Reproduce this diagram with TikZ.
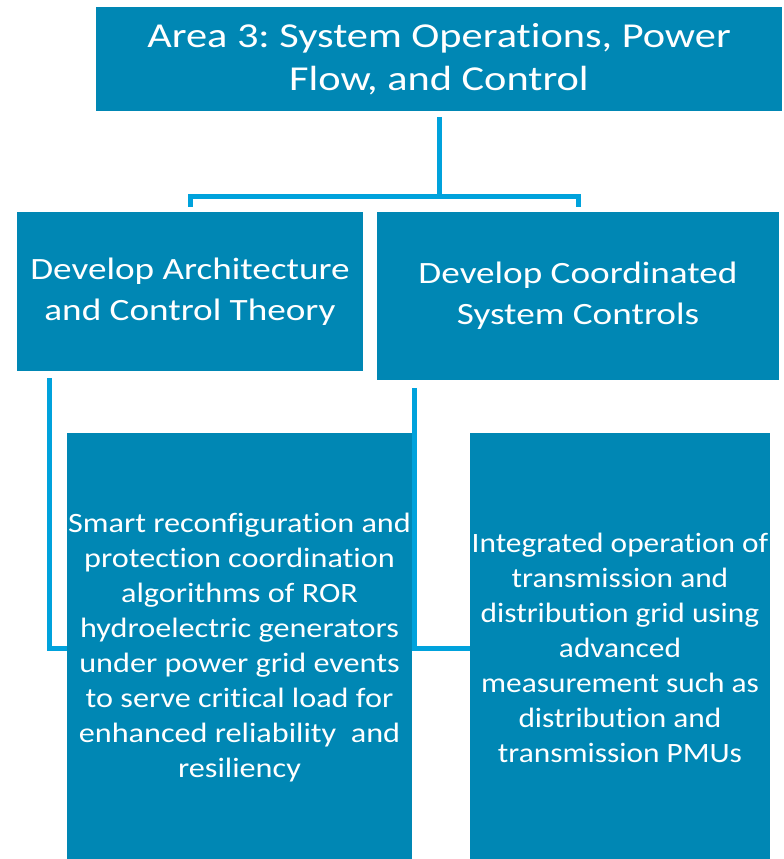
\documentclass[tikz,border=0pt]{standalone}
\usepackage{fontspec}
\setmainfont{Carlito}[Ligatures=NoCommon]
\newfontfamily\topfont{Carlito}[FakeStretch=1.21, Ligatures=NoCommon]
\newfontfamily\midfont{Carlito}[FakeStretch=1.2, Ligatures=NoCommon]
\newfontfamily\botfont{Carlito}[FakeStretch=1.15, Ligatures=NoCommon]
\newfontfamily\rbfont{Carlito}[FakeStretch=1.12, Ligatures=NoCommon]
\usetikzlibrary{calc}
\definecolor{boxblue}{HTML}{0087B4}
\definecolor{lineblue}{HTML}{00A2DC}
\tikzset{
  box/.style={fill=boxblue, draw=none, text=white, align=center, inner sep=0pt},
  conn/.style={draw=lineblue, line width=5pt}
}
\frenchspacing
\begin{document}
\begin{tikzpicture}[x=1pt,y=-1pt]
\useasboundingbox (0,0) rectangle (784,859);
\node[box, minimum width=686pt, minimum height=104pt, font=\topfont\fontsize{35}{43}\selectfont] (top) at (439,59) {Area 3: System Operations, Power\\Flow, and Control};
\node[box, minimum width=346pt, minimum height=159pt, font=\midfont\fontsize{31}{41}\selectfont] (lm) at (190,291.5) {Develop Architecture\\and Control Theory};
\node[box, minimum width=402pt, minimum height=168pt, font=\midfont\fontsize{31}{41}\selectfont] (rm) at (578,296) {Develop Coordinated\\System Controls};
\draw[conn] ($(top.south)+(0,6)$) -- ($(top.south)+(0,85)$) coordinate (j);
\draw[conn] ($(lm.north)+(0,-5)$) -- (lm.north |- j) -- (rm.north |- j) -- ($(rm.north)+(0,-5)$);
\draw[conn] ($(lm.south west)+(33,7)$) |- ($(lm.south west)+(50,277)$) coordinate (lj);
\draw[conn] ($(rm.south west)+(38,8)$) |- ($(rm.south west)+(93,268)$) coordinate (rj);
\node[box, minimum width=345pt, minimum height=430pt, font=\botfont\fontsize{28}{35}\selectfont] (lb) at (239.5,648) {Smart reconfiguration and\\protection coordination\\algorithms of ROR\\hydroelectric generators\\under power grid events\\to serve critical load for\\enhanced reliability~ and\\resiliency};
\node[box, minimum width=300pt, minimum height=430pt, font=\rbfont\fontsize{28}{35}\selectfont] (rb) at (620,648) {Integrated operation of\\transmission and\\distribution grid using\\advanced\\measurement such as\\distribution and\\transmission PMUs};
\end{tikzpicture}
\end{document}
